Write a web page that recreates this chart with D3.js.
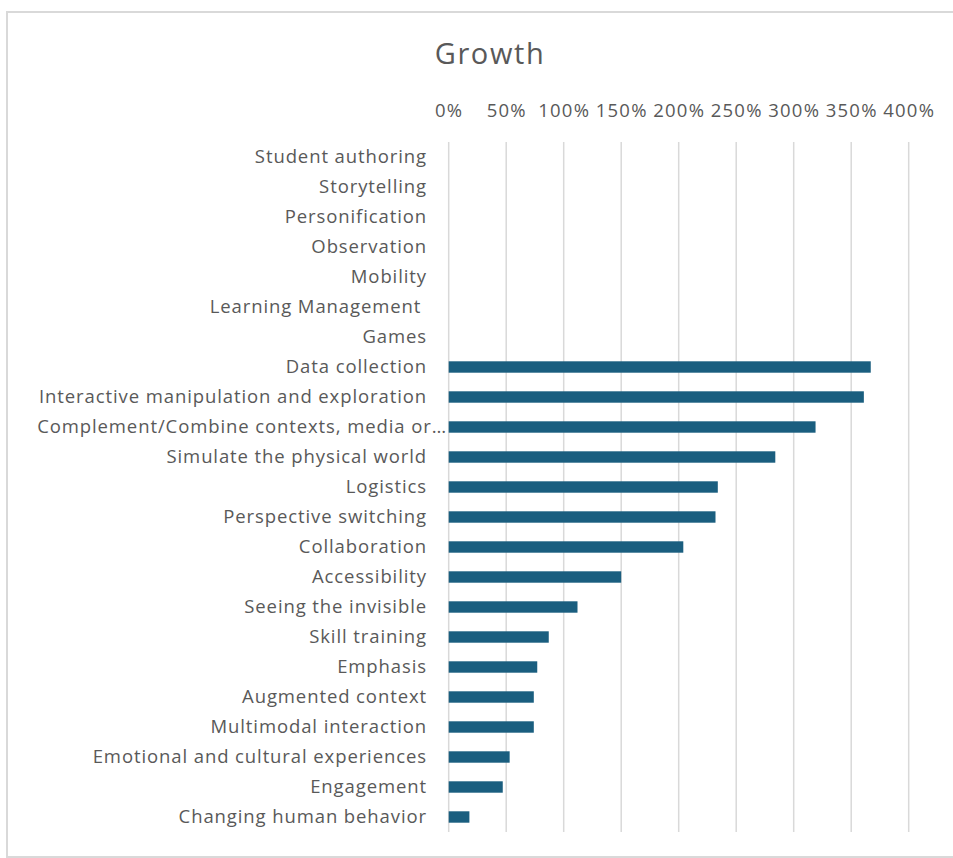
<!DOCTYPE html>
<html>
<head>
<meta charset="utf-8">
<script src="https://cdn.jsdelivr.net/npm/d3@7"></script>
<style>
  html, body { margin: 0; padding: 0; background: #fff; }
  svg { display: block; }
  text { font-family: "Open Sans", "Noto Sans", sans-serif; }
</style>
</head>
<body>
<svg id="chart" width="953" height="858"></svg>
<script>
// Categories, top to bottom
const categories = [
  "Student authoring",
  "Storytelling",
  "Personification",
  "Observation",
  "Mobility",
  "Learning Management ",
  "Games",
  "Data collection",
  "Interactive manipulation and exploration",
  "Complement/Combine contexts, media or\u2026",
  "Simulate the physical world",
  "Logistics",
  "Perspective switching",
  "Collaboration",
  "Accessibility",
  "Seeing the invisible",
  "Skill training",
  "Emphasis",
  "Augmented context",
  "Multimodal interaction",
  "Emotional and cultural experiences",
  "Engagement",
  "Changing human behavior"
];

// Growth (fraction, 1 = 100%)
const growth = [
  0, 0, 0, 0, 0, 0, 0,
  3.67, 3.61, 3.19, 2.84, 2.34, 2.32, 2.04,
  1.50, 1.12, 0.87, 0.77, 0.74, 0.74, 0.53, 0.47, 0.18
];

const tickValues = [0, 0.5, 1, 1.5, 2, 2.5, 3, 3.5, 4];

const svg = d3.select("#chart");

// chart frame
svg.append("rect")
  .attr("x", 7).attr("y", 12)
  .attr("width", 960).attr("height", 845)
  .attr("fill", "#fff")
  .attr("stroke", "#d9d9d9")
  .attr("stroke-width", 2);

const x = d3.scaleLinear().domain([0, 4]).range([448.7, 908.7]);
const y = d3.scaleBand().domain(categories).range([142, 832]).paddingInner(0.62).paddingOuter(0.31);

// title
svg.append("text")
  .attr("x", 490).attr("y", 64)
  .attr("text-anchor", "middle")
  .attr("font-size", 29)
  .attr("letter-spacing", 1.6)
  .attr("fill", "#595959")
  .text("Growth");

// vertical gridlines
svg.append("g")
  .selectAll("line")
  .data(tickValues)
  .join("line")
  .attr("x1", d => x(d)).attr("x2", d => x(d))
  .attr("y1", 142).attr("y2", 832)
  .attr("stroke", "#d9d9d9")
  .attr("stroke-width", 1.5);

// top axis labels
const xAxis = d3.axisTop(x)
  .tickValues(tickValues)
  .tickFormat(d3.format(".0%"))
  .tickSize(0)
  .tickPadding(0);

svg.append("g")
  .attr("transform", "translate(0,117)")
  .call(xAxis)
  .call(g => g.select(".domain").remove())
  .call(g => g.selectAll("text")
    .attr("font-family", "\"Open Sans\", sans-serif")
    .attr("font-size", 18.5)
    .attr("letter-spacing", 1.2)
    .attr("fill", "#595959"));

// category labels
const yAxis = d3.axisLeft(y).tickSize(0).tickPadding(0);
svg.append("g")
  .attr("transform", "translate(427,0)")
  .call(yAxis)
  .call(g => g.select(".domain").remove())
  .call(g => g.selectAll("text")
    .attr("font-family", "\"Open Sans\", sans-serif")
    .attr("font-size", 18.5)
    .attr("letter-spacing", 0.9)
    .attr("fill", "#595959")
    .style("white-space", "pre")
    .attr("dx", d => d.endsWith("\u2026") ? 20 : 0));

// bars
svg.append("g")
  .selectAll("rect")
  .data(categories.map((c, i) => ({ c, v: growth[i] })).filter(d => d.v > 0))
  .join("rect")
  .attr("x", x(0))
  .attr("y", d => y(d.c))
  .attr("width", d => x(d.v) - x(0))
  .attr("height", y.bandwidth())
  .attr("fill", "#1a5e7f");
</script>
</body>
</html>
